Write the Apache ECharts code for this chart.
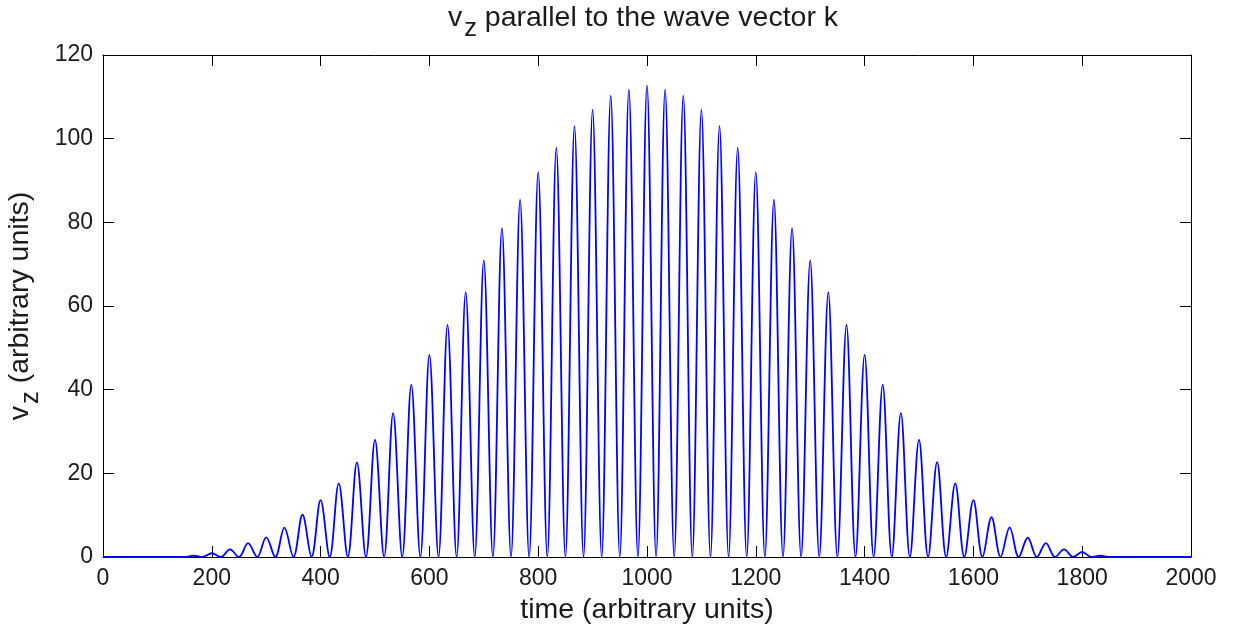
<!DOCTYPE html>
<html>
<head>
<meta charset="utf-8">
<script src="https://cdn.jsdelivr.net/npm/echarts@6/dist/echarts.min.js"></script>
<style>html,body{margin:0;padding:0;background:#fff}#c{width:1233px;height:630px}</style>
</head>
<body>
<div id="c"></div>
<script>
// Peak times and heights
const peakTimes = [166.7, 200, 233.3, 266.7, 300, 333.3, 366.7, 400, 433.3, 466.7, 500, 533.3, 566.7, 600, 633.3, 666.7, 700, 733.3, 766.7, 800, 833.3, 866.7, 900, 933.3, 966.7, 1000, 1033.3, 1066.7, 1100, 1133.3, 1166.7, 1200, 1233.3, 1266.7, 1300, 1333.3, 1366.7, 1400, 1433.3, 1466.7, 1500, 1533.3, 1566.7, 1600, 1633.3, 1666.7, 1700, 1733.3, 1766.7, 1800, 1833.3];
const peakValues = [0.3, 0.9, 1.8, 3.3, 4.7, 7.0, 10.1, 13.6, 17.6, 22.6, 28.0, 34.4, 41.2, 48.3, 55.5, 63.3, 70.9, 78.6, 85.4, 92.0, 97.8, 103.0, 106.9, 110.3, 111.7, 112.7, 111.7, 110.3, 106.9, 103.0, 97.8, 92.0, 85.4, 78.6, 70.9, 63.3, 55.5, 48.3, 41.2, 34.4, 28.0, 22.7, 17.6, 13.6, 9.5, 7.1, 4.6, 3.3, 1.8, 1.2, 0.3];
// Trough times (value 0)
const troughTimes = [150, 183.3, 216.7, 250, 283.3, 316.7, 350, 383.3, 416.7, 450, 483.3, 516.7, 550, 583.3, 616.7, 650, 683.3, 716.7, 750, 783.3, 816.7, 850, 883.3, 916.7, 950, 983.3, 1016.7, 1050, 1083.3, 1116.7, 1150, 1183.3, 1216.7, 1250, 1283.3, 1316.7, 1350, 1383.3, 1416.7, 1450, 1483.3, 1516.7, 1550, 1583.3, 1616.7, 1650, 1683.3, 1716.7, 1750, 1783.3, 1816.7, 1850];
const flatStart = [0, 0];
const flatEnd = [2000, 0];
const xTicks = [0, 200, 400, 600, 800, 1000, 1200, 1400, 1600, 1800, 2000];
const yTicks = [0, 20, 40, 60, 80, 100, 120];

const pts = [flatStart];
peakTimes.forEach((t, i) => pts.push([t, peakValues[i]]));
troughTimes.forEach(t => pts.push([t, 0]));
pts.push(flatEnd);
pts.sort((a, b) => a[0] - b[0]);

const FONT = 'Liberation Sans, Arial, sans-serif';
const TXT = '#1a1a1a';
const chart = echarts.init(document.getElementById('c'), null, {renderer: 'canvas'});
const axisLine = {show: true, onZero: false, lineStyle: {color: '#000', width: 1}};
const tick = {show: true, inside: true, length: 11, lineStyle: {color: '#000', width: 1}};
const plain = v => String(v);
const richLbl = (size) => ({
  v: {fontSize: size, fontFamily: FONT, fontWeight: 'normal', color: TXT, lineHeight: size + 4, verticalAlign: 'top'},
  s: {fontSize: size - 3, fontFamily: FONT, fontWeight: 'normal', color: TXT, lineHeight: size + 4, verticalAlign: 'top', padding: [12, 0, 0, 2]},
  t: {fontSize: size, fontFamily: FONT, fontWeight: 'normal', color: TXT, lineHeight: size + 4, verticalAlign: 'top'}
});
chart.setOption({
  animation: false,
  backgroundColor: '#fff',
  title: {
    text: '{v|v}{s|z}{t| parallel to the wave vector k}',
    left: 638, top: -1, textAlign: 'center',
    textStyle: {fontWeight: 'normal', rich: richLbl(28.5)}
  },
  grid: {left: 103, right: 42, top: 55, bottom: 73, containLabel: false, outerBoundsMode: 'none'},
  xAxis: [{
    type: 'value', min: xTicks[0], max: xTicks[xTicks.length - 1], interval: 200,
    position: 'bottom',
    name: 'time (arbitrary units)', nameLocation: 'middle', nameGap: 39,
    nameTextStyle: {fontSize: 28.5, fontFamily: FONT, color: TXT},
    axisLine, axisTick: tick, splitLine: {show: false},
    axisLabel: {fontSize: 23, fontFamily: FONT, color: TXT, margin: 10, formatter: plain}
  }, {
    type: 'value', min: xTicks[0], max: xTicks[xTicks.length - 1], interval: 200,
    position: 'top', axisLine, axisTick: tick, axisLabel: {show: false}, splitLine: {show: false}
  }],
  yAxis: [{
    type: 'value', min: yTicks[0], max: yTicks[yTicks.length - 1], interval: 20,
    position: 'left',
    name: '{v|v}{s|z}{t| (arbitrary units)}', nameLocation: 'middle', nameGap: 57, nameRotate: 90,
    nameTextStyle: {rich: richLbl(28.5)},
    axisLine, axisTick: tick, splitLine: {show: false},
    axisLabel: {fontSize: 23, fontFamily: FONT, color: TXT, margin: 10, formatter: plain}
  }, {
    type: 'value', min: yTicks[0], max: yTicks[yTicks.length - 1], interval: 20,
    position: 'right', axisLine, axisTick: tick, axisLabel: {show: false}, splitLine: {show: false}
  }],
  series: [{
    type: 'line', data: pts, xAxisIndex: 0, yAxisIndex: 0,
    showSymbol: false, smooth: 0.36,
    lineStyle: {color: '#0000ff', width: 1.8},
    itemStyle: {color: '#0000ff'}
  }]
});
</script>
</body>
</html>
